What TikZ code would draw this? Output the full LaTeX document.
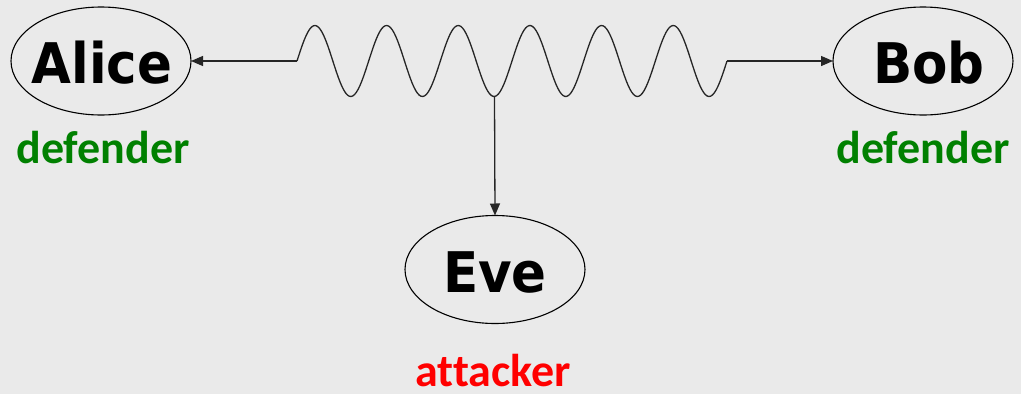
\documentclass[tikz,border=0pt]{standalone}
\usepackage{fontspec}
\usepackage{graphicx}
\usetikzlibrary{shapes.geometric,arrows.meta}
\newfontfamily\namefont{DejaVu Sans}
\newfontfamily\rolefont{Carlito}[Ligatures=NoCommon]
\definecolor{paper}{HTML}{EAEAEA}
\definecolor{defgreen}{RGB}{0,128,0}
\definecolor{attred}{RGB}{255,0,0}
\tikzset{
  party/.style={ellipse, draw=black, line width=1.1pt, inner sep=0pt, outer sep=0pt,
                minimum width=180pt, minimum height=108pt},
  partyname/.style={anchor=base, inner sep=0pt,
                font=\namefont\bfseries\fontsize{56}{60}\selectfont},
  role/.style={anchor=base, inner sep=0pt, font=\rolefont\bfseries\fontsize{46}{50}\selectfont},
  link/.style={line width=1.3pt, draw=black!85},
  arr/.style={link, -{Triangle[length=12pt,width=10pt]}},
}
\newcommand{\pname}[1]{\scalebox{0.92}[1]{#1}}
\begin{document}
\begin{tikzpicture}[x=1pt,y=-1pt]
  \fill[paper] (0,0) rectangle (1021,394);
  \useasboundingbox (0,0) rectangle (1021,394);

  % the three parties
  \node[party] (alice) at (101,61) {};
  \node[party] (bob)   at (923,61) {};
  \node[party] (eve)   at (495,269.5) {};
  \node[partyname] (alicetxt) at (102,83)  {\pname{Alice}};
  \node[partyname] (bobtxt)   at (929,83)  {\pname{Bob}};
  \node[partyname] (evetxt)   at (495,292) {\pname{Eve}};

  % roles
  \node[role, text=defgreen] (alicerole) at (103,163) {defender};
  \node[role, text=defgreen] (bobrole)   at (923,163) {defender};
  \node[role, text=attred]   (everole)   at (493,386) {attacker};

  % the channel: a wave between its two ends, tapped by Eve at a trough
  \coordinate (wl) at (297,61);
  \coordinate (wr) at (727,61);
  \coordinate (wt) at (494.5,96.5);
  \draw[link, line join=round]
    (wl) -- plot[domain=0:6, samples=240]
      ({297+71.6667*\x}, {61-35.5*sin(360*\x)}) -- (wr);
  \draw[arr] (wl) -- (alice.east);
  \draw[arr] (wr) -- (bob.west);
  \draw[arr] (wt) -- (eve.north);
\end{tikzpicture}
\end{document}
